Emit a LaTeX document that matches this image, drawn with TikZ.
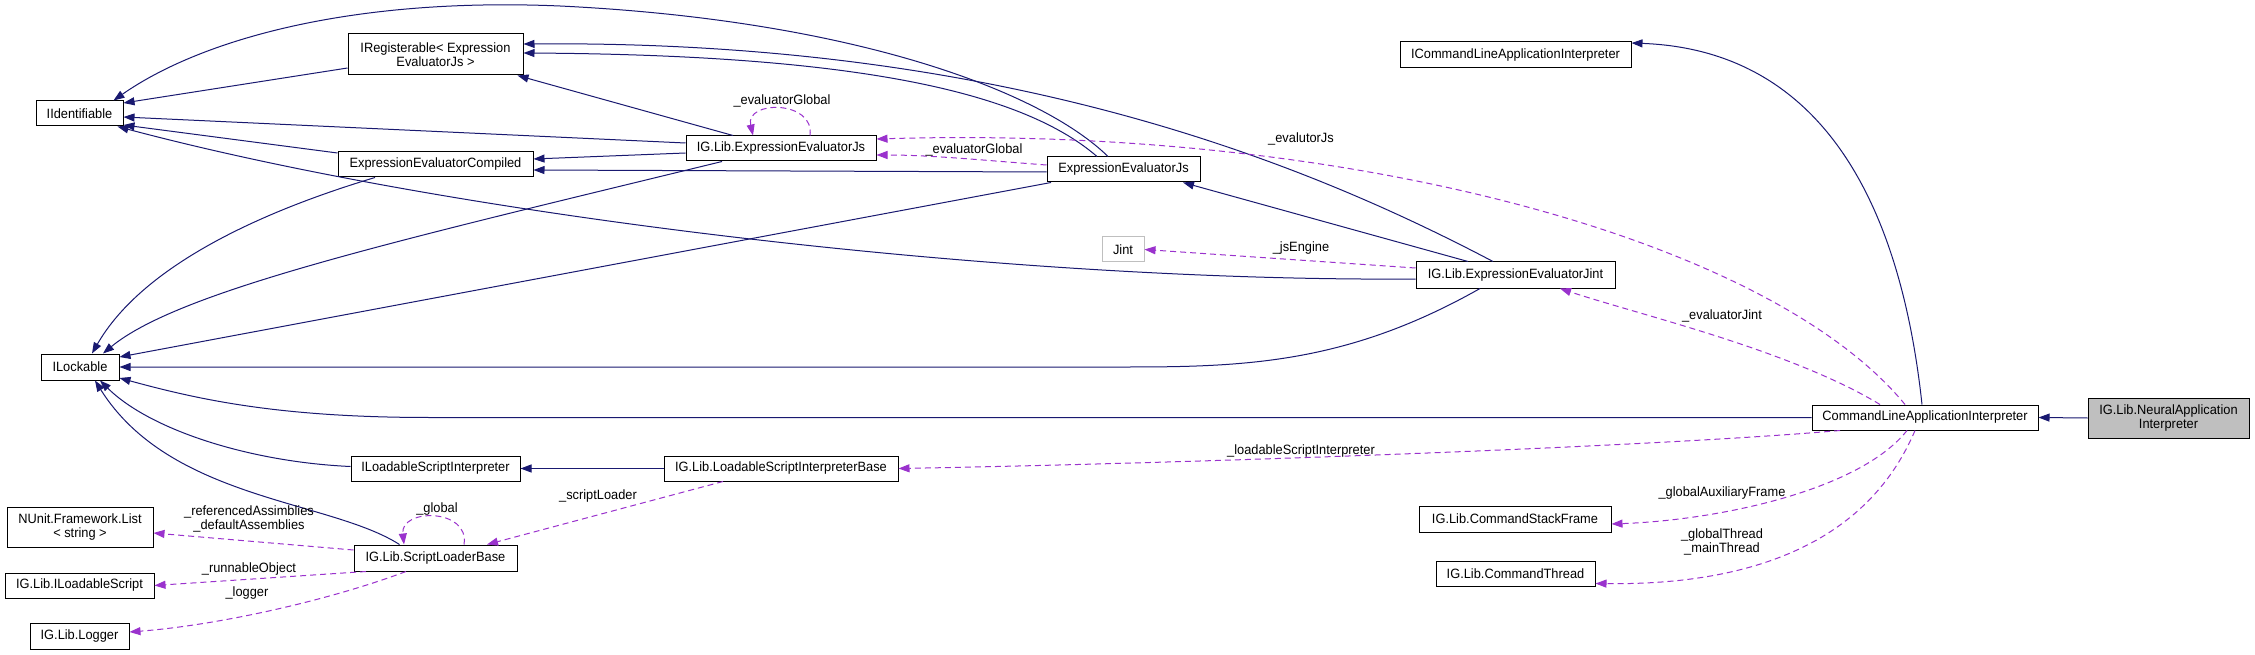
\documentclass[tikz,border=0pt]{standalone}
\usepackage{fontspec}
\setmainfont{Liberation Sans}[FakeStretch=0.95]
\usepackage{tikz}
\usetikzlibrary{arrows.meta,positioning,calc}
\definecolor{inhblue}{RGB}{25,25,112}
\definecolor{memberpurple}{RGB}{154,50,205}
\definecolor{grey75}{RGB}{191,191,191}
\tikzset{
  cls/.style={draw=black, line width=1pt, fill=white, align=center, inner sep=0pt,
    minimum height=25pt, font=\fontsize{13.5}{14.5}\selectfont},
  extcls/.style={cls, draw=grey75},
  focuscls/.style={cls, fill=grey75},
  inh/.style={draw=inhblue, line width=1pt, -{Triangle[length=11pt,width=8pt]}},
  member/.style={draw=memberpurple, line width=1pt, dash pattern=on 6pt off 4pt,
    -{Triangle[length=11pt,width=8pt]}},
  mlbl/.style={font=\fontsize{13.5}{14.5}\selectfont, align=center, inner sep=0pt}
}

\begin{document}
\begin{tikzpicture}[x=1pt, y=-1pt]
  \path[use as bounding box, fill=white] (0,0) rectangle (2255,655);

  % classes
  \node[cls, minimum width=87pt] (iident) at (79.5,113.5) {IIdentifiable};
  \node[cls, minimum width=175pt, minimum height=41pt] (ireg) at (435.5,54.5) {IRegisterable< Expression\\EvaluatorJs >};
  \node[cls, minimum width=195pt] (evalcomp) at (435.5,164.5) {ExpressionEvaluatorCompiled};
  \node[cls, minimum width=190pt] (libjs) at (781,148.5) {IG.Lib.ExpressionEvaluatorJs};
  \node[cls, minimum width=153pt] (evaljs) at (1123.5,169.5) {ExpressionEvaluatorJs};
  \node[cls, minimum width=231pt, minimum height=26pt] (icmd) at (1515.5,55) {ICommandLineApplicationInterpreter};
  \node[cls, minimum width=78pt, minimum height=26pt] (ilock) at (80,367) {ILockable};
  \node[extcls, minimum width=42pt] (jint) at (1123,249.5) {Jint};
  \node[cls, minimum width=199pt, minimum height=26pt] (jintev) at (1515.5,275) {IG.Lib.ExpressionEvaluatorJint};
  \node[cls, minimum width=226pt] (cmdline) at (1925,417.5) {CommandLineApplicationInterpreter};
  \node[focuscls, minimum width=161pt, minimum height=40pt] (neural) at (2168.5,418) {IG.Lib.NeuralApplication\\Interpreter};
  \node[cls, minimum width=169pt] (iloadint) at (435.5,468.5) {ILoadableScriptInterpreter};
  \node[cls, minimum width=234pt] (loadbase) at (781,468.5) {IG.Lib.LoadableScriptInterpreterBase};
  \node[cls, minimum width=146pt, minimum height=40pt] (nlist) at (80,527) {NUnit.Framework.List\\< string >};
  \node[cls, minimum width=163pt, minimum height=26pt] (scriptbase) at (435.5,558) {IG.Lib.ScriptLoaderBase};
  \node[cls, minimum width=149pt] (iloadscript) at (79.5,585.5) {IG.Lib.ILoadableScript};
  \node[cls, minimum width=99pt, minimum height=26pt] (logger) at (79.5,636) {IG.Lib.Logger};
  \node[cls, minimum width=192pt, minimum height=26pt] (stackframe) at (1515,519) {IG.Lib.CommandStackFrame};
  \node[cls, minimum width=159pt] (cmdthread) at (1515.5,573.5) {IG.Lib.CommandThread};

  % inheritance
  \draw[inh] ([yshift=-13.5pt]ireg.west) -- ([yshift=10.5pt]iident.east);
  \draw[inh] ([yshift=11.5pt]evalcomp.west) -- ([yshift=-11.5pt]iident.east);
  \draw[inh] ([yshift=5.5pt]libjs.west) -- ([yshift=-3.5pt]iident.east);
  \draw[inh] ([xshift=-15.5pt]evaljs.north) .. controls (1040,90) and (850,20) .. (560,6)
    .. controls (350,-3) and (200,40) .. ([xshift=34pt]iident.north);
  \draw[inh] ([yshift=-4pt]jintev.west) .. controls (1000,282) and (450,215) .. ([xshift=38pt]iident.south);
  \draw[inh] ([xshift=-22.5pt]jintev.north) .. controls (1300,160) and (1000,40) .. ([yshift=10.5pt]ireg.east);
  \draw[inh] ([xshift=-26.5pt]evaljs.north) .. controls (1020,90) and (850,55) .. ([yshift=1.5pt]ireg.east);
  \draw[inh] ([xshift=-48pt]libjs.north) -- ([xshift=82pt]ireg.south);
  \draw[inh] ([yshift=-4.5pt]libjs.west) -- ([yshift=5.5pt]evalcomp.east);
  \draw[inh] ([yshift=-2.5pt]evaljs.west) -- ([yshift=-5.5pt]evalcomp.east);
  \draw[inh] ([xshift=-47.5pt]jintev.north) -- ([xshift=59.5pt]evaljs.south);
  \draw[inh] ([xshift=-60.5pt]evalcomp.south) .. controls (250,215) and (140,270) .. ([xshift=12pt]ilock.north);
  \draw[inh] ([xshift=-59pt]libjs.south) .. controls (400,240) and (180,290) .. ([xshift=23pt]ilock.north);
  \draw[inh] ([xshift=-72.5pt]evaljs.south) -- ([yshift=10pt]ilock.east);
  \draw[inh] ([xshift=-35.5pt]jintev.south) .. controls (1350,362) and (1250,367) .. (1129,367) -- (ilock.east);
  \draw[inh] (cmdline.west) -- (430,417.5) .. controls (280,417.5) and (200,400) .. ([yshift=-11pt]ilock.east);
  \draw[inh] ([yshift=2pt]iloadint.west) .. controls (250,462) and (150,430) .. ([xshift=20pt]ilock.south);
  \draw[inh] ([xshift=-36pt]scriptbase.north) .. controls (330,500) and (170,500) .. ([xshift=15pt]ilock.south);
  \draw[inh] (loadbase.west) -- (iloadint.east);
  \draw[inh] ([xshift=-3pt]cmdline.north) .. controls (1900,200) and (1820,50) .. ([yshift=12pt]icmd.east);
  \draw[inh] (neural.west) -- (cmdline.east);

  % members
  \draw[member] ([xshift=29pt]libjs.north) .. controls (815,100) and (745,100) .. ([xshift=-28pt]libjs.north);
  \node[mlbl] (lglobaljs) at (782,101) {\_evaluatorGlobal};
  \draw[member] ([yshift=4.5pt]evaljs.west) .. controls (980,160) and (930,155) .. ([yshift=-6.5pt]libjs.east);
  \node[mlbl] (lglobal) at (974,150) {\_evaluatorGlobal};
  \draw[member] ([xshift=-20pt]cmdline.north) .. controls (1770,240) and (1350,125) .. ([yshift=9.5pt]libjs.east);
  \node[mlbl] (ljs) at (1301,139) {\_evalutorJs};
  \draw[member] ([xshift=-45pt]cmdline.north) .. controls (1790,350) and (1640,315) .. ([xshift=44.5pt]jintev.south);
  \node[mlbl] (ljint) at (1722,316) {\_evaluatorJint};
  \draw[member] ([yshift=7pt]jintev.west) -- (jint.east);
  \node[mlbl] (lengine) at (1301,248) {\_jsEngine};
  \draw[member] ([xshift=-85pt]cmdline.south) .. controls (1650,447) and (1200,463) .. (loadbase.east);
  \node[mlbl] (lloadable) at (1301,451) {\_loadableScriptInterpreter};
  \draw[member] ([xshift=-18pt]cmdline.south) .. controls (1860,490) and (1720,520) .. ([yshift=-5pt]stackframe.east);
  \node[mlbl] (lframe) at (1722,493) {\_globalAuxiliaryFrame};
  \draw[member] ([xshift=-10pt]cmdline.south) .. controls (1860,560) and (1720,585) .. ([yshift=-10pt]cmdthread.east);
  \node[mlbl] (lthread) at (1722,542) {\_globalThread\\\_mainThread};
  \draw[member] ([xshift=-58pt]loadbase.south) -- ([xshift=51.5pt]scriptbase.north);
  \node[mlbl] (lloader) at (598,496) {\_scriptLoader};
  \draw[member] ([xshift=28.5pt]scriptbase.north) .. controls (470,508) and (400,508) .. ([xshift=-31.5pt]scriptbase.north);
  \node[mlbl] (lglobalsl) at (437,509) {\_global};
  \draw[member] ([yshift=8pt]scriptbase.west) -- ([yshift=-6pt]nlist.east);
  \node[mlbl] (lassem) at (249,519) {\_referencedAssimblies\\\_defaultAssemblies};
  \draw[member] ([xshift=-69.5pt]scriptbase.south) -- (iloadscript.east);
  \node[mlbl] (lrunnable) at (249,569) {\_runnableObject};
  \draw[member] ([xshift=-29.5pt]scriptbase.south) .. controls (330,600) and (220,625) .. ([yshift=4pt]logger.east);
  \node[mlbl] (llogger) at (247,593) {\_logger};
\end{tikzpicture}
\end{document}
